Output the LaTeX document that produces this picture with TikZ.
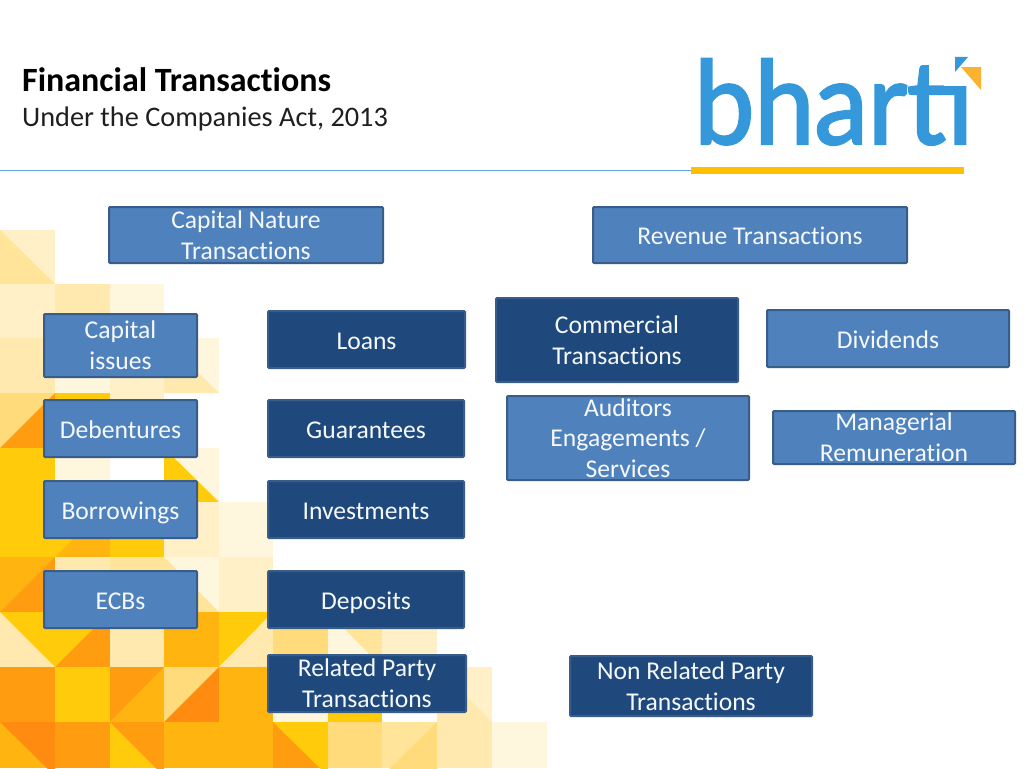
\documentclass[tikz,border=0pt]{standalone}
\usepackage{fontspec}
\usepackage{graphicx}
\setmainfont[Ligatures=NoCommon]{Carlito}
\newfontfamily\logofont[FakeBold=2.2]{Lato}
\definecolor{palea}{HTML}{FFF6DE}
\definecolor{paleb}{HTML}{FFF0C8}
\definecolor{palec}{HTML}{FFE9AE}
\definecolor{paled}{HTML}{FFE49A}
\definecolor{paledk}{HTML}{FFDB7C}
\definecolor{yel}{HTML}{FFCB0A}
\definecolor{amb}{HTML}{FFB40F}
\definecolor{org}{HTML}{FF9C10}
\definecolor{orgdk}{HTML}{FF8C10}
\definecolor{lightfill}{HTML}{4F81BD}
\definecolor{darkfill}{HTML}{1F497D}
\definecolor{boxline}{HTML}{385D8A}
\definecolor{logoblue}{HTML}{3498DB}
\definecolor{logoamber}{HTML}{FBB231}
\definecolor{barcolor}{HTML}{FFC000}
\newcommand{\boxstrut}{\rule[-5pt]{0pt}{29pt}}
\tikzset{
  basebox/.style={draw=boxline, line width=2pt, rounded corners=1pt, text=white!95!lightfill, align=center,
    inner xsep=0pt, inner ysep=-9pt, font=\fontsize{25.6}{30.8}\selectfont},
  oneline/.style={execute at begin node=\boxstrut, execute at end node=\boxstrut},
  lightbox/.style={basebox, fill=lightfill},
  darkbox/.style={basebox, fill=darkfill}
}
\begin{document}
\begin{tikzpicture}[x=1pt,y=-1pt]
  \useasboundingbox (0,0) rectangle (1024,768);
  \begin{scope}
  \clip (0,0) rectangle (1024,768);
  %% tiles, top rows
  \fill[paleb] (0,230) rectangle (55,284);
  \fill[paled] (0,230) -- (55,284) -- (0,284) -- cycle;
  \fill[paleb] (0,284) rectangle (55,338);
  \fill[palec] (55,284) rectangle (110,338);
  \fill[palea] (110,284) rectangle (164,338);
  \fill[palec] (0,338) rectangle (55,393);
  \fill[palea] (55,338) rectangle (110,393);
  \fill[paleb] (110,338) rectangle (164,393);
  \fill[palea] (164,338) rectangle (219,393);
  \fill[palec] (164,338) -- (219,393) -- (164,393) -- cycle;
  \fill[paledk] (0,393) rectangle (55,448);
  \fill[org] (55,393) -- (55,448) -- (0,448) -- cycle;
  \fill[yel] (55,393) rectangle (110,448);
  \fill[paleb] (110,393) rectangle (164,448);

  %% tiles, middle rows
  \fill[yel] (0,448) rectangle (55,502);
  \fill[palea] (55,448) rectangle (110,502);
  \fill[palea] (164,448) rectangle (219,502);
  \fill[yel] (164,448) -- (219,502) -- (164,502) -- cycle;
  \fill[yel] (0,502) rectangle (55,557);
  \fill[yel] (55,502) rectangle (110,557);
  \fill[amb] (110,502) -- (110,557) -- (55,557) -- cycle;
  \fill[yel] (110,502) rectangle (164,557);
  \fill[paleb] (164,502) rectangle (219,557);
  \fill[palea] (219,502) rectangle (273,557);
  \fill[amb] (0,557) rectangle (55,612);
  \fill[org] (55,557) -- (55,612) -- (0,612) -- cycle;
  \fill[palec] (55,557) rectangle (110,612);
  \fill[paled] (110,557) rectangle (164,612);
  \fill[palea] (164,557) rectangle (219,612);
  \fill[paled] (164,557) -- (219,612) -- (164,612) -- cycle;
  \fill[paleb] (219,557) rectangle (273,612);

  %% tiles, lower rows
  \fill[yel] (0,612) rectangle (55,667);
  \fill[palec] (0,612) -- (55,667) -- (0,667) -- cycle;
  \fill[yel] (55,612) rectangle (110,667);
  \fill[org] (110,612) -- (110,667) -- (55,667) -- cycle;
  \fill[palec] (110,612) rectangle (164,667);
  \fill[amb] (164,612) rectangle (219,667);
  \fill[yel] (219,612) rectangle (273,667);
  \fill[palec] (273,612) -- (273,667) -- (219,667) -- cycle;
  \fill[paledk] (273,612) rectangle (328,667);
  \fill[palea] (328,612) rectangle (382,667);
  \fill[paled] (328,612) -- (382,612) -- (382,667) -- cycle;
  \fill[paleb] (382,612) rectangle (437,667);
  \fill[org] (0,667) rectangle (55,722);
  \fill[yel] (55,667) rectangle (110,722);
  \fill[org] (110,667) rectangle (164,722);
  \fill[amb] (164,667) -- (164,722) -- (110,722) -- cycle;
  \fill[paledk] (164,667) rectangle (219,722);
  \fill[orgdk] (219,667) -- (219,722) -- (164,722) -- cycle;
  \fill[amb] (219,667) rectangle (273,722);
  \fill[palea] (273,667) rectangle (328,722);
  \fill[yel] (328,667) rectangle (382,722);
  \fill[paleb] (437,667) rectangle (492,722);
  \fill[palec] (437,667) -- (492,722) -- (437,722) -- cycle;
  \fill[amb] (0,722) rectangle (55,768);
  \fill[orgdk] (0,722) -- (55,722) -- (55,776) -- cycle;
  \fill[org] (55,722) rectangle (110,768);
  \fill[yel] (110,722) rectangle (164,768);
  \fill[org] (110,722) -- (164,722) -- (164,776) -- cycle;
  \fill[amb] (164,722) rectangle (273,768);
  \fill[org] (273,722) rectangle (328,768);
  \fill[yel] (273,722) -- (328,722) -- (328,776) -- cycle;
  \fill[paledk] (328,722) rectangle (382,768);
  \fill[paled] (382,722) rectangle (437,768);
  \fill[paledk] (437,722) -- (437,776) -- (382,776) -- cycle;
  \fill[palec] (437,722) rectangle (492,768);
  \fill[palea] (492,722) rectangle (547,768);
  \end{scope}

  %% heading
  \node[anchor=base west, inner sep=0pt, text=black, font=\fontsize{34}{38}\selectfont\bfseries] (title) at (22,91) {Financial Transactions};
  \node[anchor=base west, inner sep=0pt, text=black!88, font=\fontsize{28.3}{32}\selectfont] (subtitle) at (22,126) {Under the Companies Act, 2013};
  \draw[color=logoblue!80, line width=1pt] (0,170.5) -- (700,170.5);
  \fill[barcolor] (691,167) rectangle (964,174);

  %% logo
  \node[anchor=south west, inner sep=0pt, text=logoblue] (logo) at (694,145) {\resizebox{279pt}{85pt}{\logofont bharti}};
  \fill[white] (944,54) rectangle (975,86);
  \fill[logoblue] (955,57) -- (968,57) -- (955,72) -- cycle;
  \fill[logoamber] (961,67) -- (981,67) -- (981,90) -- cycle;

  %% top row
  \node[lightbox, minimum width=274pt, minimum height=56pt] (capital) at (246,235) {Capital Nature\\Transactions};
  \node[lightbox, oneline, minimum width=314pt, minimum height=56pt] (revenue) at (750,235) {Revenue Transactions};

  %% left column
  \node[lightbox, minimum width=153pt, minimum height=63pt] (issues) at (120.5,345.5) {Capital\\issues};
  \node[lightbox, oneline, minimum width=153pt, minimum height=57pt] (debentures) at (120.5,428.5) {Debentures};
  \node[lightbox, oneline, minimum width=153pt, minimum height=57pt] (borrowings) at (120.5,509.5) {Borrowings};
  \node[lightbox, oneline, minimum width=153pt, minimum height=57pt] (ecbs) at (120.5,599.5) {ECBs};

  %% second column
  \node[darkbox, oneline, minimum width=197pt, minimum height=57pt] (loans) at (366.5,339.5) {Loans};
  \node[darkbox, oneline, minimum width=196pt, minimum height=57pt] (guarantees) at (366,428.5) {Guarantees};
  \node[darkbox, oneline, minimum width=196pt, minimum height=57pt] (investments) at (366,509.5) {Investments};
  \node[darkbox, oneline, minimum width=196pt, minimum height=57pt] (deposits) at (366,599.5) {Deposits};
  \node[darkbox, minimum width=198pt, minimum height=57pt] (related) at (367,683.5) {Related Party\\Transactions};

  %% right side
  \node[darkbox, minimum width=242pt, minimum height=84pt] (commercial) at (617,340) {Commercial\\Transactions};
  \node[lightbox, minimum width=242pt, minimum height=84pt] (auditors) at (628,438) {Auditors\\Engagements /\\Services};
  \node[lightbox, oneline, minimum width=242pt, minimum height=57pt] (dividends) at (888,338.5) {Dividends};
  \node[lightbox, minimum width=242pt, minimum height=53pt] (managerial) at (894,437.5) {Managerial\\Remuneration};
  \node[darkbox, minimum width=242pt, minimum height=60pt] (nonrelated) at (691,686) {Non Related Party\\Transactions};
\end{tikzpicture}
\end{document}
